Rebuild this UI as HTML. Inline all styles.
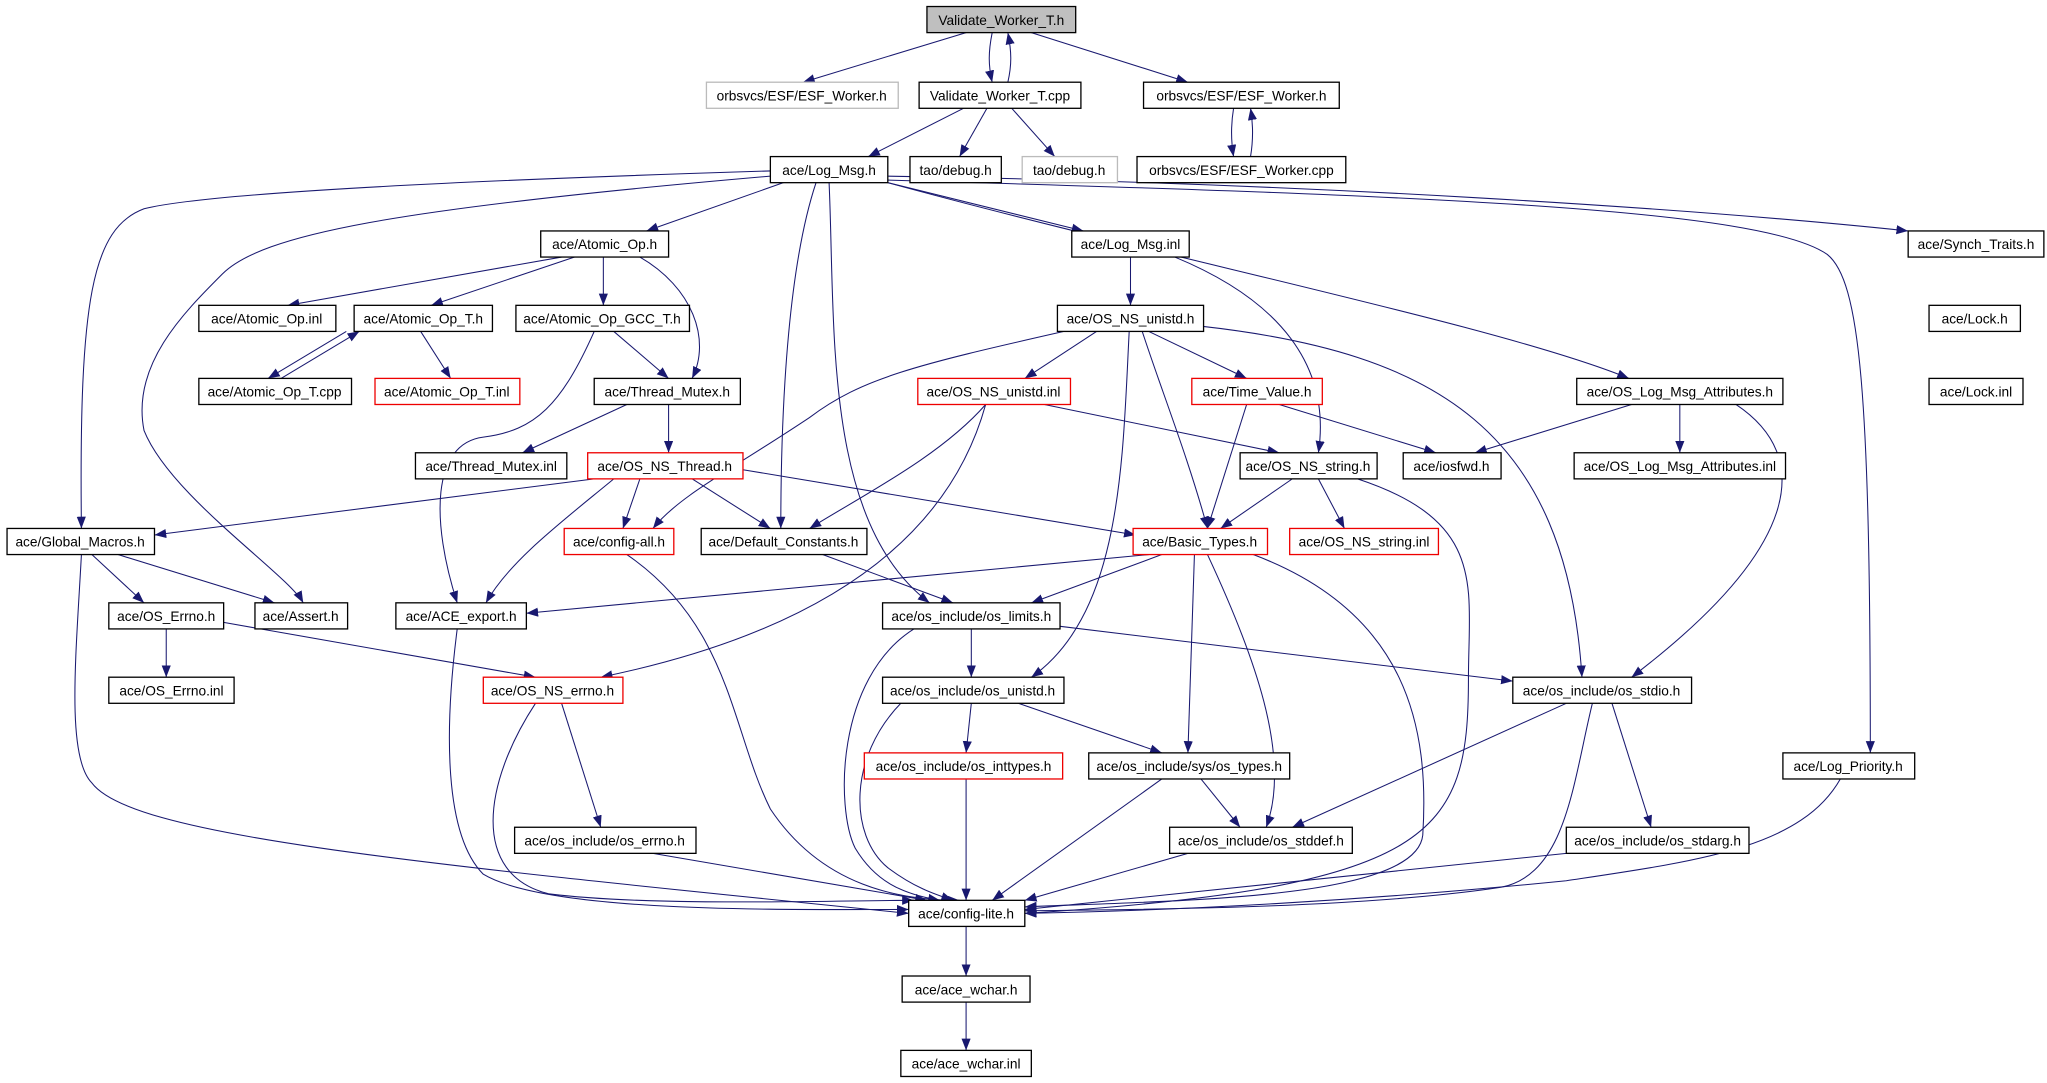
<!DOCTYPE html>
<html><head><meta charset="utf-8"><style>
html,body{margin:0;padding:0;background:#fff;}
svg{display:block;}
text{font-family:"Liberation Sans",sans-serif;font-size:10.5px;fill:#000;text-anchor:middle;}
.n{fill:#fff;stroke:#000;stroke-width:1;}
.r{fill:#fff;stroke:#e00;stroke-width:1;}
.g{fill:#fff;stroke:#bbb;stroke-width:1;}
path.e{fill:none;stroke:#191970;stroke-width:0.8;marker-end:url(#a);}
</style></head><body>
<svg width="2047" height="1083" viewBox="0 0 1568 830" xmlns="http://www.w3.org/2000/svg">
<defs><marker id="a" markerUnits="userSpaceOnUse" markerWidth="10" markerHeight="8" refX="9" refY="3.5" orient="auto"><path d="M0,0 L9,3.5 L0,7 z" fill="#191970"/></marker></defs>
<!-- edges -->
<path class="e" d="M740,25 L615,63"/>
<path class="e" d="M760,25 C757,40 757,50 760,63"/>
<path class="e" d="M772,63 C775,50 775,40 772,25"/>
<path class="e" d="M790,25 L910,63"/>
<path class="e" d="M945,83 C943,95 943,108 945,120"/>
<path class="e" d="M958,120 C960,108 960,95 958,83"/>
<path class="e" d="M738,83 L665,120"/>
<path class="e" d="M756,83 L735,120"/>
<path class="e" d="M775,83 L808,120"/>
<path class="e" d="M590,131 C300,140 150,150 110,160 C70,175 60,230 62,405"/>
<path class="e" d="M590,135 C300,160 200,180 170,210 C140,240 100,280 110,330 C130,380 220,440 232,462"/>
<path class="e" d="M600,140 L495,177"/>
<path class="e" d="M625,140 C605,200 598,300 598,405"/>
<path class="e" d="M635,140 C640,250 630,400 712,462"/>
<path class="e" d="M680,140 L830,177"/>
<path class="e" d="M680,140 C900,200 1150,250 1248,290"/>
<path class="e" d="M680,135 C1000,140 1300,160 1462,177"/>
<path class="e" d="M680,138 C1100,150 1350,160 1400,195 C1425,215 1433,300 1433,577"/>
<path class="e" d="M430,197 L220,234"/>
<path class="e" d="M440,197 L330,234"/>
<path class="e" d="M462,197 L462,234"/>
<path class="e" d="M490,197 C530,220 545,260 530,290"/>
<path class="e" d="M265,254 L205,290"/>
<path class="e" d="M215,290 L275,254"/>
<path class="e" d="M322,254 L345,290"/>
<path class="e" d="M470,254 L512,290"/>
<path class="e" d="M455,254 C430,310 410,330 370,335 C330,340 330,400 350,462"/>
<path class="e" d="M480,310 L400,347"/>
<path class="e" d="M512,310 L512,347"/>
<path class="e" d="M455,367 L118,410"/>
<path class="e" d="M490,367 L477,405"/>
<path class="e" d="M470,367 C430,400 390,430 372,462"/>
<path class="e" d="M530,367 L590,405"/>
<path class="e" d="M569,360 L870,410"/>
<path class="e" d="M866,197 L866,234"/>
<path class="e" d="M900,197 C980,230 1020,280 1010,347"/>
<path class="e" d="M815,254 C700,280 660,290 620,320 C560,360 520,380 500,405"/>
<path class="e" d="M840,254 L785,290"/>
<path class="e" d="M880,254 L955,290"/>
<path class="e" d="M875,254 C890,300 910,350 925,405"/>
<path class="e" d="M865,254 C860,350 860,470 790,519"/>
<path class="e" d="M920,250 C1100,270 1200,330 1212,519"/>
<path class="e" d="M800,310 L980,347"/>
<path class="e" d="M755,310 C720,350 660,380 620,405"/>
<path class="e" d="M755,310 C730,400 650,480 460,519"/>
<path class="e" d="M955,310 L925,405"/>
<path class="e" d="M980,310 L1100,347"/>
<path class="e" d="M1250,310 L1130,347"/>
<path class="e" d="M1287,310 L1287,347"/>
<path class="e" d="M1330,310 C1390,350 1380,420 1250,519"/>
<path class="e" d="M990,367 L935,405"/>
<path class="e" d="M1010,367 L1030,405"/>
<path class="e" d="M1040,367 C1140,400 1125,450 1125,520 C1125,640 1100,680 785,700"/>
<path class="e" d="M70,425 L110,462"/>
<path class="e" d="M90,425 L210,462"/>
<path class="e" d="M62,425 C58,500 50,580 70,600 C100,640 300,660 696,700"/>
<path class="e" d="M480,425 C560,480 560,560 590,620 C630,680 690,690 735,690"/>
<path class="e" d="M630,425 L730,462"/>
<path class="e" d="M880,425 L403,470"/>
<path class="e" d="M890,425 L790,462"/>
<path class="e" d="M915,425 L910,577"/>
<path class="e" d="M925,425 C960,500 990,580 970,634"/>
<path class="e" d="M960,425 C1080,470 1095,560 1090,640 C1085,690 900,690 785,695"/>
<path class="e" d="M127,482 L127,519"/>
<path class="e" d="M171,477 L410,519"/>
<path class="e" d="M350,482 C340,560 340,640 370,670 C420,700 600,697 696,697"/>
<path class="e" d="M812,480 L1159,522"/>
<path class="e" d="M744,482 L744,519"/>
<path class="e" d="M700,482 C640,520 640,620 655,650 C670,675 690,685 720,690"/>
<path class="e" d="M430,539 L460,634"/>
<path class="e" d="M410,539 C370,600 360,670 420,685 C500,695 640,690 700,690"/>
<path class="e" d="M744,539 L740,577"/>
<path class="e" d="M780,539 L890,577"/>
<path class="e" d="M690,539 C650,580 650,640 680,665 C700,680 715,685 730,690"/>
<path class="e" d="M1200,539 L990,634"/>
<path class="e" d="M1235,539 L1265,634"/>
<path class="e" d="M1220,539 C1205,600 1200,670 1150,680 C1050,695 900,697 785,698"/>
<path class="e" d="M740,597 L740,690"/>
<path class="e" d="M890,597 L760,690"/>
<path class="e" d="M920,597 L950,634"/>
<path class="e" d="M500,654 L710,690"/>
<path class="e" d="M910,654 L785,690"/>
<path class="e" d="M1200,654 L785,697"/>
<path class="e" d="M1410,597 C1380,650 1300,660 1200,675 C1050,690 900,698 785,700"/>
<path class="e" d="M740,710 L740,748"/>
<path class="e" d="M740,768 L740,805"/>
<!-- nodes -->
<rect x="710" y="5" width="114" height="20" fill="#bfbfbf" stroke="#000"/><text x="767" y="19">Validate_Worker_T.h</text>
<rect class="g" x="541" y="63" width="147" height="20"/><text x="614" y="77">orbsvcs/ESF/ESF_Worker.h</text>
<rect class="n" x="704" y="63" width="124" height="20"/><text x="766" y="77">Validate_Worker_T.cpp</text>
<rect class="n" x="876" y="63" width="150" height="20"/><text x="951" y="77">orbsvcs/ESF/ESF_Worker.h</text>
<rect class="n" x="590" y="120" width="90" height="20"/><text x="635" y="134">ace/Log_Msg.h</text>
<rect class="n" x="697" y="120" width="70" height="20"/><text x="732" y="134">tao/debug.h</text>
<rect class="g" x="783" y="120" width="73" height="20"/><text x="819" y="134">tao/debug.h</text>
<rect class="n" x="871" y="120" width="160" height="20"/><text x="951" y="134">orbsvcs/ESF/ESF_Worker.cpp</text>
<rect class="n" x="414" y="177" width="98" height="20"/><text x="463" y="191">ace/Atomic_Op.h</text>
<rect class="n" x="821" y="177" width="90" height="20"/><text x="866" y="191">ace/Log_Msg.inl</text>
<rect class="n" x="1462" y="177" width="104" height="20"/><text x="1514" y="191">ace/Synch_Traits.h</text>
<rect class="n" x="152" y="234" width="105" height="20"/><text x="204" y="248">ace/Atomic_Op.inl</text>
<rect class="n" x="271" y="234" width="106" height="20"/><text x="324" y="248">ace/Atomic_Op_T.h</text>
<rect class="n" x="395" y="234" width="133" height="20"/><text x="461" y="248">ace/Atomic_Op_GCC_T.h</text>
<rect class="n" x="810" y="234" width="112" height="20"/><text x="866" y="248">ace/OS_NS_unistd.h</text>
<rect class="n" x="1478" y="234" width="70" height="20"/><text x="1513" y="248">ace/Lock.h</text>
<rect class="n" x="152" y="290" width="117" height="20"/><text x="210" y="304">ace/Atomic_Op_T.cpp</text>
<rect class="r" x="287" y="290" width="111" height="20"/><text x="342" y="304">ace/Atomic_Op_T.inl</text>
<rect class="n" x="455" y="290" width="112" height="20"/><text x="511" y="304">ace/Thread_Mutex.h</text>
<rect class="r" x="703" y="290" width="117" height="20"/><text x="761" y="304">ace/OS_NS_unistd.inl</text>
<rect class="r" x="913" y="290" width="100" height="20"/><text x="963" y="304">ace/Time_Value.h</text>
<rect class="n" x="1208" y="290" width="158" height="20"/><text x="1287" y="304">ace/OS_Log_Msg_Attributes.h</text>
<rect class="n" x="1478" y="290" width="72" height="20"/><text x="1514" y="304">ace/Lock.inl</text>
<rect class="n" x="318" y="347" width="116" height="20"/><text x="376" y="361">ace/Thread_Mutex.inl</text>
<rect class="r" x="450" y="347" width="119" height="20"/><text x="509" y="361">ace/OS_NS_Thread.h</text>
<rect class="n" x="950" y="347" width="105" height="20"/><text x="1002" y="361">ace/OS_NS_string.h</text>
<rect class="n" x="1075" y="347" width="75" height="20"/><text x="1112" y="361">ace/iosfwd.h</text>
<rect class="n" x="1206" y="347" width="162" height="20"/><text x="1287" y="361">ace/OS_Log_Msg_Attributes.inl</text>
<rect class="n" x="5" y="405" width="113" height="20"/><text x="61" y="419">ace/Global_Macros.h</text>
<rect class="r" x="432" y="405" width="84" height="20"/><text x="474" y="419">ace/config-all.h</text>
<rect class="n" x="537" y="405" width="127" height="20"/><text x="600" y="419">ace/Default_Constants.h</text>
<rect class="r" x="868" y="405" width="103" height="20"/><text x="919" y="419">ace/Basic_Types.h</text>
<rect class="r" x="988" y="405" width="114" height="20"/><text x="1045" y="419">ace/OS_NS_string.inl</text>
<rect class="n" x="83" y="462" width="88" height="20"/><text x="127" y="476">ace/OS_Errno.h</text>
<rect class="n" x="195" y="462" width="71" height="20"/><text x="230" y="476">ace/Assert.h</text>
<rect class="n" x="303" y="462" width="100" height="20"/><text x="353" y="476">ace/ACE_export.h</text>
<rect class="n" x="676" y="462" width="136" height="20"/><text x="744" y="476">ace/os_include/os_limits.h</text>
<rect class="n" x="83" y="519" width="96" height="20"/><text x="131" y="533">ace/OS_Errno.inl</text>
<rect class="r" x="370" y="519" width="107" height="20"/><text x="423" y="533">ace/OS_NS_errno.h</text>
<rect class="n" x="676" y="519" width="139" height="20"/><text x="745" y="533">ace/os_include/os_unistd.h</text>
<rect class="n" x="1159" y="519" width="137" height="20"/><text x="1227" y="533">ace/os_include/os_stdio.h</text>
<rect class="r" x="662" y="577" width="152" height="20"/><text x="738" y="591">ace/os_include/os_inttypes.h</text>
<rect class="n" x="834" y="577" width="154" height="20"/><text x="911" y="591">ace/os_include/sys/os_types.h</text>
<rect class="n" x="1366" y="577" width="101" height="20"/><text x="1416" y="591">ace/Log_Priority.h</text>
<rect class="n" x="394" y="634" width="139" height="20"/><text x="463" y="648">ace/os_include/os_errno.h</text>
<rect class="n" x="896" y="634" width="140" height="20"/><text x="966" y="648">ace/os_include/os_stddef.h</text>
<rect class="n" x="1200" y="634" width="140" height="20"/><text x="1270" y="648">ace/os_include/os_stdarg.h</text>
<rect class="n" x="696" y="690" width="89" height="20"/><text x="740" y="704">ace/config-lite.h</text>
<rect class="n" x="691" y="748" width="98" height="20"/><text x="740" y="762">ace/ace_wchar.h</text>
<rect class="n" x="690" y="805" width="100" height="20"/><text x="740" y="819">ace/ace_wchar.inl</text>
</svg>
</body></html>
